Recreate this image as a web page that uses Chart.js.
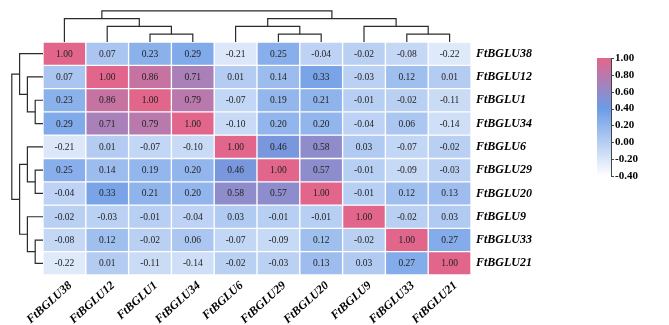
<!DOCTYPE html>
<html>
<head>
<meta charset="utf-8">
<script src="https://cdn.jsdelivr.net/npm/chart.js@4.4.1/dist/chart.umd.min.js"></script>
<style>
  html, body { margin: 0; padding: 0; background: #fff; }
  canvas { display: block; }
</style>
</head>
<body>
<canvas id="chart" width="669" height="325"></canvas>
<script>
// gene order (same for rows and columns, after clustering)
const genes = ["FtBGLU38", "FtBGLU12", "FtBGLU1", "FtBGLU34", "FtBGLU6",
               "FtBGLU29", "FtBGLU20", "FtBGLU9", "FtBGLU33", "FtBGLU21"];

// correlation values, one row per gene
const r38 = [1.00, 0.07, 0.23, 0.29, -0.21, 0.25, -0.04, -0.02, -0.08, -0.22];
const r12 = [0.07, 1.00, 0.86, 0.71, 0.01, 0.14, 0.33, -0.03, 0.12, 0.01];
const r1  = [0.23, 0.86, 1.00, 0.79, -0.07, 0.19, 0.21, -0.01, -0.02, -0.11];
const r34 = [0.29, 0.71, 0.79, 1.00, -0.10, 0.20, 0.20, -0.04, 0.06, -0.14];
const r6  = [-0.21, 0.01, -0.07, -0.10, 1.00, 0.46, 0.58, 0.03, -0.07, -0.02];
const r29 = [0.25, 0.14, 0.19, 0.20, 0.46, 1.00, 0.57, -0.01, -0.09, -0.03];
const r20 = [-0.04, 0.33, 0.21, 0.20, 0.58, 0.57, 1.00, -0.01, 0.12, 0.13];
const r9  = [-0.02, -0.03, -0.01, -0.04, 0.03, -0.01, -0.01, 1.00, -0.02, 0.03];
const r33 = [-0.08, 0.12, -0.02, 0.06, -0.07, -0.09, 0.12, -0.02, 1.00, 0.27];
const r21 = [-0.22, 0.01, -0.11, -0.14, -0.02, -0.03, 0.13, 0.03, 0.27, 1.00];
const rows = [r38, r12, r1, r34, r6, r29, r20, r9, r33, r21];

// tree merges: [a, b, level]; new cluster ids start at 10
const merges = [[2, 3, 1], [1, 10, 2], [0, 11, 3], [5, 6, 1], [4, 13, 2],
                [8, 9, 1], [7, 15, 2], [14, 16, 3], [12, 17, 4]];

// colour bar
const cbTicks = [1.00, 0.80, 0.60, 0.40, 0.20, 0.00, -0.20, -0.40];
const cbMin = -0.40, cbMax = 1.00;

const stops = [
  [-0.40, [255, 255, 255]],
  [0.40, [108, 156, 230]],
  [1.00, [226, 102, 140]]
];

function colorFor(v) {
  if (v <= stops[0][0]) return 'rgb(' + stops[0][1].join(',') + ')';
  for (let i = 1; i < stops.length; i++) {
    if (v <= stops[i][0]) {
      let t = (v - stops[i - 1][0]) / (stops[i][0] - stops[i - 1][0]);
      let a = stops[i - 1][1], b = stops[i][1];
      let c = a.map((x, k) => Math.round(x + (b[k] - x) * t));
      return 'rgb(' + c.join(',') + ')';
    }
  }
  return 'rgb(' + stops[stops.length - 1][1].join(',') + ')';
}

const datasets = rows.map((vals, r) => ({
  label: genes[r],
  data: vals.map(() => [r, r + 1]),
  backgroundColor: vals.map(v => colorFor(v)),
  borderColor: '#ffffff',
  borderWidth: 1,
  borderSkipped: false,
  barPercentage: 1,
  categoryPercentage: 1,
  grouped: false
}));

const serif = '"Liberation Serif", "Times New Roman", serif';

// numbers inside cells
const cellText = {
  id: 'cellText',
  afterDatasetsDraw(chart) {
    const ctx = chart.ctx;
    ctx.save();
    ctx.font = '9.5px ' + serif;
    ctx.fillStyle = '#222';
    ctx.textAlign = 'center';
    ctx.textBaseline = 'middle';
    chart.data.datasets.forEach((ds, r) => {
      chart.getDatasetMeta(r).data.forEach((el, c) => {
        const p = el.getCenterPoint();
        ctx.fillText(rows[r][c].toFixed(2), p.x, p.y + 0.5);
      });
    });
    ctx.restore();
  }
};

// slanted column names under the grid
const colNames = {
  id: 'colNames',
  afterDraw(chart) {
    const ctx = chart.ctx;
    const xs = chart.scales.x;
    const y0 = chart.chartArea.bottom + 9;
    ctx.save();
    ctx.font = 'italic bold 12px ' + serif;
    ctx.fillStyle = '#000';
    ctx.textAlign = 'right';
    ctx.textBaseline = 'middle';
    genes.forEach((g, i) => {
      ctx.save();
      ctx.translate(xs.getPixelForValue(i) + 6, y0);
      ctx.rotate(-42 * Math.PI / 180);
      ctx.fillText(g, 0, 0);
      ctx.restore();
    });
    ctx.restore();
  }
};

// dendrograms on top and left
const dendro = {
  id: 'dendro',
  afterDraw(chart) {
    const ctx = chart.ctx;
    const area = chart.chartArea;
    const xs = chart.scales.x;
    const ys = chart.scales.yLab;
    const step = 7.8;
    ctx.save();
    ctx.strokeStyle = '#2b2b2b';
    ctx.lineWidth = 1.2;

    function draw(leafPos, vertical) {
      const pos = genes.map((g, i) => leafPos(i));
      const lvl = genes.map(() => 0);
      merges.forEach(([a, b, h]) => {
        const pa = pos[a], pb = pos[b];
        ctx.beginPath();
        if (vertical) {
          const base = area.top;
          ctx.moveTo(pa, base - lvl[a] * step);
          ctx.lineTo(pa, base - h * step);
          ctx.lineTo(pb, base - h * step);
          ctx.lineTo(pb, base - lvl[b] * step);
        } else {
          const base = area.left;
          ctx.moveTo(base - lvl[a] * step, pa);
          ctx.lineTo(base - h * step, pa);
          ctx.lineTo(base - h * step, pb);
          ctx.lineTo(base - lvl[b] * step, pb);
        }
        ctx.stroke();
        pos.push((pa + pb) / 2);
        lvl.push(h);
      });
    }
    draw(i => xs.getPixelForValue(i), true);
    draw(i => ys.getPixelForValue(i), false);
    ctx.restore();
  }
};

// colour legend on the right
const colorBar = {
  id: 'colorBar',
  afterDraw(chart) {
    const ctx = chart.ctx;
    const left = 597, w = 14, top = 58, bottom = 176;
    const yOf = v => bottom - (v - cbMin) / (cbMax - cbMin) * (bottom - top);
    ctx.save();
    const g = ctx.createLinearGradient(0, bottom, 0, top);
    stops.forEach(([v, c]) => g.addColorStop((v - cbMin) / (cbMax - cbMin), 'rgb(' + c.join(',') + ')'));
    ctx.fillStyle = g;
    ctx.fillRect(left, top, w, bottom - top);
    ctx.strokeStyle = '#444';
    ctx.lineWidth = 1;
    ctx.beginPath();
    ctx.moveTo(left + w + 0.5, top);
    ctx.lineTo(left + w + 0.5, bottom);
    cbTicks.forEach(t => {
      const y = Math.round(yOf(t)) + 0.5;
      ctx.moveTo(left + w, y);
      ctx.lineTo(left + w + 3, y);
    });
    ctx.stroke();
    ctx.fillStyle = '#000';
    ctx.font = 'bold 11px ' + serif;
    ctx.textAlign = 'left';
    ctx.textBaseline = 'middle';
    cbTicks.forEach(t => ctx.fillText(t.toFixed(2), left + w + 4, yOf(t)));
    ctx.restore();
  }
};

const labelFont = { family: serif, size: 12, weight: 'bold', style: 'italic' };

new Chart(document.getElementById('chart'), {
  type: 'bar',
  data: { labels: genes, datasets: datasets },
  options: {
    responsive: false,
    animation: false,
    layout: { padding: { left: 43, top: 42, right: 0, bottom: 0 } },
    plugins: { legend: { display: false }, tooltip: { enabled: false } },
    scales: {
      x: {
        type: 'category',
        offset: true,
        grid: { display: false, drawTicks: false },
        border: { display: false },
        ticks: { display: false },
        afterFit(scale) { scale.height = 50; }
      },
      y: {
        type: 'linear',
        min: 0,
        max: 10,
        reverse: true,
        display: false
      },
      yLab: {
        type: 'category',
        labels: genes,
        position: 'right',
        offset: true,
        grid: { display: false, drawTicks: false },
        border: { display: false },
        ticks: { color: '#000', font: labelFont, padding: 5 },
        afterFit(scale) { scale.width = 198; }
      }
    }
  },
  plugins: [cellText, colNames, dendro, colorBar]
});
</script>
</body>
</html>
